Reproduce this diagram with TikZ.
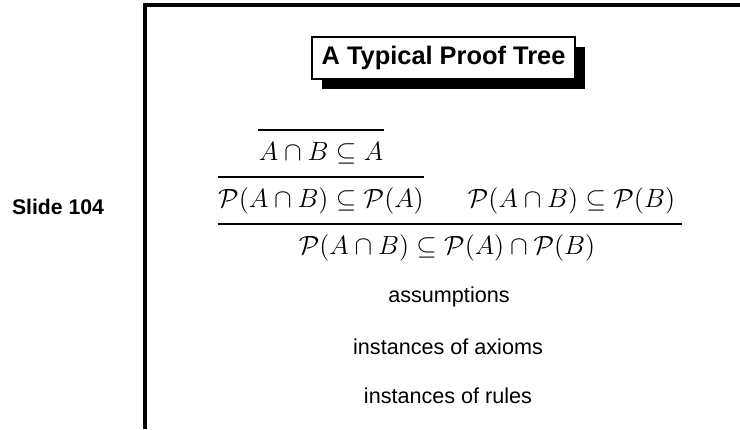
\RequirePackage{fix-cm}
\documentclass[tikz,border=0pt]{standalone}
\usepackage{fontspec}
\setsansfont{Liberation Sans}
\usetikzlibrary{shadows}

\tikzset{
  fml/.style={anchor=base,inner sep=0pt,text height=15pt,text depth=8.5pt,font=\fontsize{13.2}{16}\selectfont},
  rulebar/.style={line width=1pt},
  note/.style={font=\sffamily\fontsize{10.8}{13}\selectfont},
  titlebox/.style={draw,line width=1pt,fill=white,inner xsep=5pt,inner ysep=4.5pt,
    font=\sffamily\bfseries\fontsize{12.7}{15}\selectfont,
    drop shadow={shadow xshift=5pt,shadow yshift=-5pt,opacity=1,fill=black}}
}

\begin{document}
\begin{tikzpicture}[x=0.5pt,y=-0.5pt]
\useasboundingbox (0,0) rectangle (740,429);
% frame of the slide
\draw[line width=2pt] (740,5) -- (145,5) -- (145,429);
\node[font=\sffamily\bfseries\fontsize{10.6}{12}\selectfont] (slide) at (58,207) {Slide 104};
\node[titlebox] (title) at (443.5,58) {A Typical Proof Tree};

% the proof tree
\node[fml] (ax) at (321,160) {$A\cap B\subseteq A$};
\node[fml] (pl) at (321,207) {$\mathcal{P}(A\cap B)\subseteq\mathcal{P}(A)$};
\node[fml] (pr) at (571.5,207) {$\mathcal{P}(A\cap B)\subseteq\mathcal{P}(B)$};
\node[fml] (concl) at (447,254) {$\mathcal{P}(A\cap B)\subseteq\mathcal{P}(A)\cap\mathcal{P}(B)$};
\draw[rulebar] (ax.north west) -- (ax.north east);
\draw[rulebar] (pl.north west) -- (pl.north east);
\draw[rulebar] (pl.south west) -- ([xshift=3.5pt]pr.south east);

\node[note] (asm) at (449,297) {assumptions};
\node[note] (axi) at (448,347) {instances of axioms};
\node[note] (rul) at (448,396) {instances of rules};
\end{tikzpicture}
\end{document}
